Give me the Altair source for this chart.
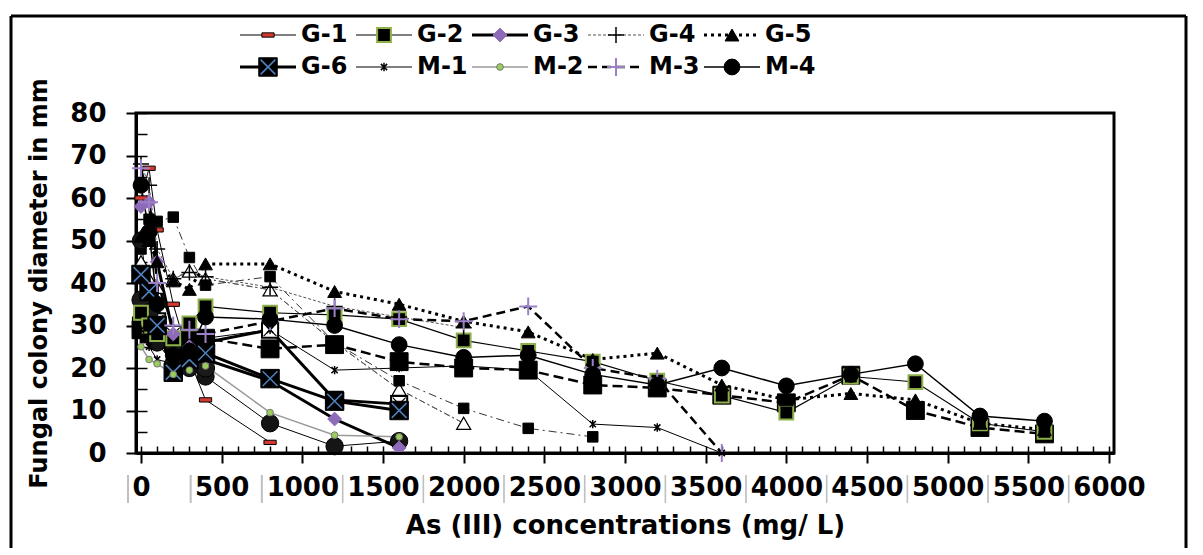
import altair as alt
import pandas as pd

# ---------------- data ----------------
X_ALL = [0, 50, 100, 200, 300, 400, 800, 1200, 1600, 2000, 2400, 2800,
         3200, 3600, 4000, 4400, 4800, 5200, 5600]

G1_x = [0, 50, 100, 200, 300, 400, 800]
G1_y = [60, 67, 52.5, 35, 22, 12.5, 2.5]
G2_x = X_ALL
G2_y = [33, 30, 28, 27, 30.5, 34.5, 33, 32.5, 31.5, 26.5, 24, 21.5, 17, 13.5, 9.5, 18, 16.7, 7, 5]
G3_x = [0, 50, 100, 200, 300, 400, 800, 1200, 1600]
G3_y = [58, 59, 45, 28, 25, 22, 17, 8, 1.2]
G4_x = [0, 50, 100, 200, 300, 400, 800, 1200, 1600, 2000]
G4_y = [68, 63, 48, 41, 42.5, 41.5, 39, 34.5, 32, 29.5]
G5_x = X_ALL
G5_y = [51, 50, 45, 40.5, 38.5, 44.5, 44.5, 38, 35, 31, 28.5, 22, 23.5, 16, 12.5, 14, 12.5, 7, 5.5]
G6_x = [0, 50, 100, 200, 300, 400, 800, 1200, 1600]
G6_y = [42, 38, 30, 19, 22, 23.5, 17.5, 12.2, 10]
M1_x = [0, 50, 100, 200, 300, 400, 800, 1200, 1600, 2000, 2400, 2800, 3200, 3600]
M1_y = [29, 25, 22, 21, 25, 27, 29, 19.5, 20, 20.5, 19.5, 6.8, 6, 0]
M2_x = [0, 50, 100, 200, 300, 400, 800, 1200, 1600]
M2_y = [25, 22, 21, 18.5, 19.5, 20.5, 9.5, 4.2, 3.8]
M3_x = [0, 50, 100, 200, 300, 400, 800, 1200, 1600, 2000, 2400, 2800, 3200, 3600]
M3_y = [67, 59, 40, 30, 29, 28, 31, 34, 31.5, 31, 34.5, 20, 17.5, 0]
M4_x = X_ALL
M4_y = [63, 52, 35, 23, 24, 32, 31.5, 30, 25.5, 22.5, 23, 18.5, 16, 20, 15.8, 18.5, 21, 8.7, 7.5]

# further curves drawn in the plot but not named in its legend
H1_x = [0, 50, 100, 200, 300, 400, 800, 1200, 1600]
H1_y = [50, 36, 26, 21, 20, 18, 7, 1.6, 2.8]
H2_x = [0, 50, 100, 200, 300, 400, 800, 1200, 1600, 2000, 2400, 2800]
H2_y = [48, 55, 54.5, 55.5, 46, 39.5, 41.5, 26, 17, 10.5, 5.8, 3.8]
H3_x = X_ALL
H3_y = [29, 28, 27, 26, 27, 27, 24.5, 25.5, 21.5, 20, 19.5, 16, 15.3, 13.6, 11.8, 18.3, 10, 6, 4.5]
H4_x = [0, 50, 100, 200, 300, 400, 800, 1200, 1600, 2000]
H4_y = [45, 41, 39, 41, 42.8, 41, 38.4, 26, 15, 7]
H5_x = [0, 50, 100, 200, 300, 400, 800, 1200, 1600]
H5_y = [30, 30, 31, 28, 27, 26, 29, 12.5, 11.5]
H6_x = [0, 50, 100, 200, 300, 400]
H6_y = [36, 33, 30, 26, 24, 20]

LEGEND_NAMES = ['G-1', 'G-2', 'G-3', 'G-4', 'G-5', 'G-6', 'M-1', 'M-2', 'M-3', 'M-4']

X_TICKS = list(range(0, 6001, 500))
X_MINOR = list(range(0, 6001, 100))
Y_TICKS = list(range(0, 81, 10))
Y_MINOR = list(range(0, 81, 5))

X_TITLE = 'As (III) concentrations (mg/ L)'
Y_TITLE = 'Fungal colony diameter in mm'

SERIES = [
    ('H4', H4_x, H4_y), ('H2', H2_x, H2_y), ('H5', H5_x, H5_y), ('H3', H3_x, H3_y),
    ('H1', H1_x, H1_y), ('H6', H6_x, H6_y),
    ('G-1', G1_x, G1_y), ('G-2', G2_x, G2_y), ('G-3', G3_x, G3_y), ('G-4', G4_x, G4_y),
    ('G-5', G5_x, G5_y), ('G-6', G6_x, G6_y), ('M-1', M1_x, M1_y), ('M-2', M2_x, M2_y),
    ('M-3', M3_x, M3_y), ('M-4', M4_x, M4_y),
]

# ---------------- styles ----------------
FONT = 'DejaVu Sans'
W, H = 978, 340

RECT = 'M-1,-0.35L1,-0.35L1,0.35L-1,0.35Z'
PLUS = 'M-1,0L1,0M0,-1L0,1'
XCROSS = 'M-0.8,-0.8L0.8,0.8M-0.8,0.8L0.8,-0.8'
ASTER = 'M-0.75,-0.75L0.75,0.75M-0.75,0.75L0.75,-0.75M0,-1L0,1'

LINE = {
    'G-1': dict(color='black', strokeWidth=1),
    'G-2': dict(color='black', strokeWidth=1.2),
    'G-3': dict(color='black', strokeWidth=3),
    'G-4': dict(color='#555555', strokeWidth=1, strokeDash=[3, 2]),
    'G-5': dict(color='black', strokeWidth=3, strokeDash=[3, 4]),
    'G-6': dict(color='black', strokeWidth=3),
    'M-1': dict(color='black', strokeWidth=1),
    'M-2': dict(color='#9a9a9a', strokeWidth=1.5),
    'M-3': dict(color='black', strokeWidth=2.5, strokeDash=[9, 5]),
    'M-4': dict(color='black', strokeWidth=1.5),
    'H1': dict(color='black', strokeWidth=1),
    'H2': dict(color='#333333', strokeWidth=1, strokeDash=[8, 4, 2, 4]),
    'H3': dict(color='black', strokeWidth=2.5, strokeDash=[10, 5]),
    'H4': dict(color='#555555', strokeWidth=1, strokeDash=[6, 3, 2, 3]),
    'H5': dict(color='black', strokeWidth=3),
    'H6': dict(color='black', strokeWidth=2),
}

POINTS = {
    'G-1': [dict(shape=RECT, size=150, filled=True, fill='#d63a2f', stroke='black', strokeWidth=1)],
    'G-2': [dict(shape='square', size=190, filled=True, fill='black', stroke='#8db04a', strokeWidth=2)],
    'G-3': [dict(shape='diamond', size=190, filled=True, fill='#8e6bb8', stroke='#8e6bb8', strokeWidth=1)],
    'G-4': [dict(shape=PLUS, size=260, filled=False, stroke='black', strokeWidth=1.5)],
    'G-5': [dict(shape='triangle-up', size=190, filled=True, fill='black', stroke='black', strokeWidth=1)],
    'G-6': [dict(shape='square', size=340, filled=True, fill='black', stroke='black', strokeWidth=1),
            dict(shape=XCROSS, size=340, filled=False, stroke='#4f81bd', strokeWidth=1.5)],
    'M-1': [dict(shape=ASTER, size=70, filled=False, stroke='black', strokeWidth=1.5)],
    'M-2': [dict(shape='circle', size=45, filled=True, fill='#9acd5a', stroke='#777777', strokeWidth=1)],
    'M-3': [dict(shape=PLUS, size=320, filled=False, stroke='#9b80c8', strokeWidth=2)],
    'M-4': [dict(shape='circle', size=250, filled=True, fill='black', stroke='black', strokeWidth=1)],
    'H1': [dict(shape='circle', size=300, filled=True, fill='#151515', stroke='black', strokeWidth=1)],
    'H2': [dict(shape='square', size=110, filled=True, fill='black', stroke='black', strokeWidth=1)],
    'H3': [dict(shape='square', size=320, filled=True, fill='black', stroke='black', strokeWidth=1)],
    'H4': [dict(shape='triangle-up', size=200, filled=True, fill='white', stroke='black', strokeWidth=1.2)],
    'H5': [dict(shape='square', size=260, filled=True, fill='white', stroke='black', strokeWidth=2),
           dict(shape=XCROSS, size=260, filled=False, stroke='black', strokeWidth=1.2)],
    'H6': [dict(shape='circle', size=330, filled=True, fill='#1a1a1a', stroke='black', strokeWidth=1)],
}

XS = alt.Scale(domain=[0, 6000], nice=False, zero=False)
YS = alt.Scale(domain=[0, 80], nice=False, zero=False)

AX_X_MAIN = alt.Axis(values=X_TICKS, orient='bottom', format='d', title=X_TITLE,
                     labelFont=FONT, labelFontSize=26, labelFontWeight='bold', labelColor='black',
                     labelPadding=11, labelFlush=False, labelOverlap=False,
                     tickSize=10, tickWidth=2, tickColor='black',
                     domainColor='black', domainWidth=3, grid=False,
                     titleFont=FONT, titleFontSize=26, titleFontWeight='bold', titleColor='black',
                     titlePadding=12, zindex=1)
AX_X_IN = alt.Axis(values=X_MINOR, orient='bottom', offset=-7, tickSize=7, tickWidth=1.5,
                   tickColor='black', labels=False, domain=False, grid=False, title=None)
AX_Y_MAIN = alt.Axis(values=Y_TICKS, orient='left', format='d', title=Y_TITLE,
                     labelFont=FONT, labelFontSize=26, labelFontWeight='bold', labelColor='black',
                     labelPadding=20, labelFlush=False, labelOverlap=False,
                     tickSize=10, tickWidth=2, tickColor='black',
                     domainColor='black', domainWidth=3, grid=False,
                     titleFont=FONT, titleFontSize=24, titleFontWeight='bold', titleColor='black',
                     titlePadding=18)
AX_Y_IN = alt.Axis(values=Y_MINOR, orient='left', offset=-11, tickSize=11, tickWidth=1.5,
                   tickColor='black', labels=False, domain=False, grid=False, title=None)

layers = []

# white boxes (with shadow) behind the x tick labels
lab_df = pd.DataFrame({'v': X_TICKS, 'label': [str(v) for v in X_TICKS]})
for n, bw in [(1, 24), (3, 60), (4, 79)]:
    base = alt.Chart(lab_df).transform_filter(f'length(datum.label) == {n}')
    layers.append(base.mark_bar(width=bw, color='#8a8a8a', opacity=0.55, xOffset=-2, yOffset=4).encode(
        x=alt.X('v:Q', scale=XS, axis=None), y=alt.value(H + 18), y2=alt.value(H + 50)))
    layers.append(base.mark_bar(width=bw, color='white').encode(
        x=alt.X('v:Q', scale=XS, axis=None), y=alt.value(H + 18), y2=alt.value(H + 50)))

# lines
first = True
for name, xs, ys in SERIES:
    df = pd.DataFrame({'x': xs, 'y': ys})
    if first:
        xe = alt.X('x:Q', scale=XS, axis=AX_X_MAIN)
        ye = alt.Y('y:Q', scale=YS, axis=AX_Y_MAIN)
    else:
        xe = alt.X('x:Q', scale=XS, axis=None)
        ye = alt.Y('y:Q', scale=YS, axis=None)
    layers.append(alt.Chart(df).mark_line(**LINE[name]).encode(x=xe, y=ye))
    if first:
        # inner (minor) ticks
        layers.append(alt.Chart(df).mark_line(**LINE[name]).encode(
            x=alt.X('x:Q', scale=XS, axis=AX_X_IN), y=alt.Y('y:Q', scale=YS, axis=AX_Y_IN)))
    first = False

# markers
for name, xs, ys in SERIES:
    df = pd.DataFrame({'x': xs, 'y': ys})
    for ps in POINTS[name]:
        layers.append(alt.Chart(df).mark_point(opacity=1, **ps).encode(
            x=alt.X('x:Q', scale=XS, axis=None), y=alt.Y('y:Q', scale=YS, axis=None)))

# outer frame of the figure
FL, FR, FT, FB = -125, 1050, -97, 435
one = pd.DataFrame({'k': [0]})
layers.append(alt.Chart(one).mark_rule(color='black', strokeWidth=3).encode(
    x=alt.value(FL), y=alt.value(FT), y2=alt.value(FB)))
layers.append(alt.Chart(one).mark_rule(color='black', strokeWidth=3).encode(
    x=alt.value(FL), x2=alt.value(FR), y=alt.value(FT)))
layers.append(alt.Chart(one).mark_rule(color='black', strokeWidth=3).encode(
    x=alt.value(FR), y=alt.value(FT), y2=alt.value(FB)))

main = alt.layer(*layers).properties(width=W, height=H).resolve_axis(x='independent', y='independent')

# ---------------- legend (two rows of five) ----------------
LEG_H = 80
LEG_START, LEG_STEP, LEG_LINE = 104, 116, 56
LEG_ROW0, LEG_GAP = 19, 32

leg_df = pd.DataFrame({'name': LEGEND_NAMES,
                       'col': [0, 1, 2, 3, 4] * 2,
                       'row': [0] * 5 + [1] * 5})
leg_df['x0'] = LEG_START + leg_df['col'] * LEG_STEP
leg_df['x1'] = leg_df['x0'] + LEG_LINE
leg_df['xm'] = leg_df['x0'] + LEG_LINE / 2
leg_df['xt'] = leg_df['x1'] + 5
leg_df['ly'] = LEG_ROW0 + leg_df['row'] * LEG_GAP

LX = alt.Scale(domain=[0, W], nice=False, zero=False)
LY = alt.Scale(domain=[0, LEG_H], reverse=True, nice=False, zero=False)

leg_layers = []
for name in LEGEND_NAMES:
    base = alt.Chart(leg_df).transform_filter(alt.datum.name == name)
    leg_layers.append(base.mark_rule(**LINE[name]).encode(
        x=alt.X('x0:Q', scale=LX, axis=None), x2='x1:Q',
        y=alt.Y('ly:Q', scale=LY, axis=None)))
    for ps in POINTS[name]:
        leg_layers.append(base.mark_point(opacity=1, **ps).encode(
            x=alt.X('xm:Q', scale=LX, axis=None), y=alt.Y('ly:Q', scale=LY, axis=None)))
    leg_layers.append(base.mark_text(align='left', baseline='middle', font=FONT, fontSize=24,
                                     fontWeight='bold', color='black').encode(
        x=alt.X('xt:Q', scale=LX, axis=None), y=alt.Y('ly:Q', scale=LY, axis=None), text='name:N'))

legend = alt.layer(*leg_layers).properties(width=W, height=LEG_H,
                                           view=alt.ViewBackground(stroke='transparent'))

chart = alt.vconcat(legend, main, spacing=17, bounds='flush').properties(
    padding={'left': 0, 'top': 5, 'right': 0, 'bottom': 0}
).configure(font=FONT).configure_view(stroke='black', strokeWidth=3)

chart.save('out.html', embed_options={'renderer': 'svg', 'actions': False})
